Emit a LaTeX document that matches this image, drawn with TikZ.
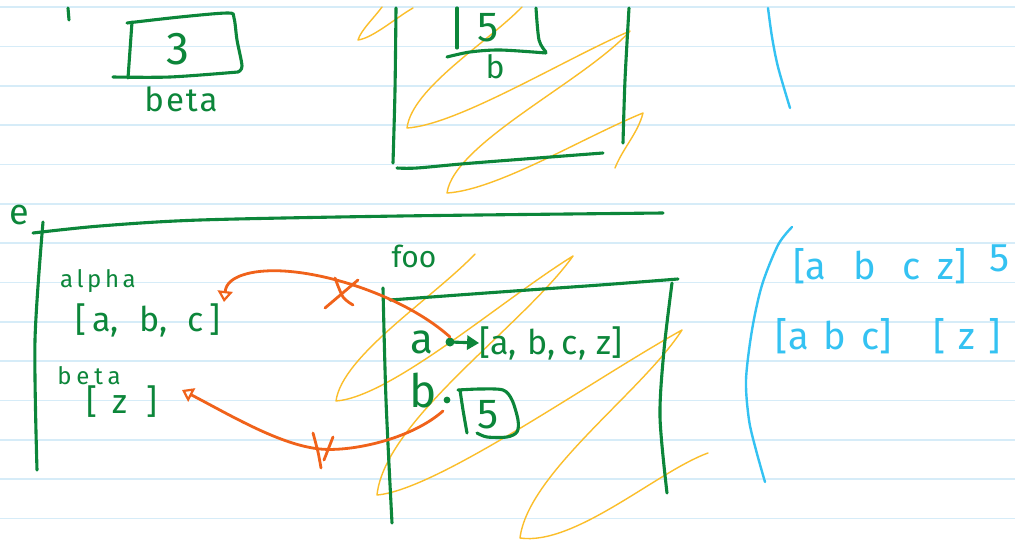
\documentclass[tikz,border=0pt]{standalone}
\usepackage{fontspec}
\setmainfont{Fira Sans}
\usetikzlibrary{arrows.meta}
\definecolor{ink}{RGB}{12,134,58}
\definecolor{orng}{RGB}{240,98,26}
\definecolor{hl}{RGB}{251,190,42}
\definecolor{sky}{RGB}{52,194,242}
\definecolor{rulec}{RGB}{214,236,248}
\newcommand{\fsz}[1]{\fontsize{#1}{#1}\selectfont}
\newcommand{\spread}[1]{\addfontfeature{LetterSpace=#1}}
\tikzset{
  hand/.style={text=ink, inner sep=0pt, anchor=center},
  bluetext/.style={text=sky, inner sep=0pt, anchor=center},
  pen/.style={draw=ink, line width=3.1pt, line cap=round, line join=round},
  bluepen/.style={draw=sky, line width=2.4pt, line cap=round},
  hilite/.style={draw=hl, line width=1.4pt, line cap=round, line join=round},
  redpen/.style={draw=orng, line width=2.8pt, line cap=round},
  redarrow/.style={redpen, -{Triangle[open, length=11pt, width=15pt, line width=2.2pt]}},
  rulings/.style={draw=rulec, line width=1.6pt},
}
\begin{document}
\begin{tikzpicture}[x=1pt,y=-1pt]
\useasboundingbox (0,0) rectangle (1015,543);
\fill[white] (0,0) rectangle (1015,543);
\foreach \k in {0,...,13}{\draw[rulings] (0,{7.3+39.33*\k}) -- (1015,{7.3+39.33*\k});}

% yellow scribbles
\draw[hilite] (382,7) .. controls +(-8,11) and +(3,-10) .. (358,40)
  .. controls +(15,-2) and +(-16,9) .. (413,8);
\draw[hilite] (522,7) .. controls +(-35,36) and +(5,-40) .. (407,128)
  .. controls +(50,-3) and +(-67,29) .. (630,31)
  .. controls +(-45,50) and +(7,-50) .. (447,193)
  .. controls +(50,-3) and +(-59,24) .. (643,113)
  .. controls +(-5,20) and +(8,-20) .. (615,168);
\draw[hilite] (475,254) .. controls +(-42,44) and +(6,-45) .. (336,401)
  .. controls +(55,-4) and +(-71,44) .. (573,256)
  .. controls +(-50,70) and +(8,-75) .. (377,495)
  .. controls +(60,-5) and +(-90,50) .. (682,330)
  .. controls +(-40,62) and +(8,-65) .. (520,538)
  .. controls +(55,8) and +(-50,18) .. (708,453);

% top-left tick
\draw[pen] (68,8) -- (69,20);
% box 3
\draw[pen] plot[smooth] coordinates {(127,23) (180,17) (228,13) (234,18) (237,40) (242,66) (238,72)};
\draw[pen] plot[smooth] coordinates {(113,77) (170,77) (238,72)};
\draw[pen] (132,22) -- (128,78);
\node[hand, font=\fsz{46}] (three) at (178,49) {3};
\node[hand, font=\fsz{33}\spread{6}] (betaTop) at (181,99) {beta};

% top middle frame
\draw[pen] plot[smooth] coordinates {(396,8) (395,90) (393,163)};
\draw[pen] plot[smooth] coordinates {(397,168) (417,168) (473,163) (603,153)};
\draw[pen] plot[smooth] coordinates {(629,8) (625,80) (623,143)};
\draw[pen] (457,8) -- (457,48);
\draw[pen] plot[smooth] coordinates {(536,8) (539,40) (546,52)};
\draw[pen] plot[smooth] coordinates {(447,57) (470,52) (500,50) (546,53)};
\node[hand, font=\fsz{42}] (five) at (488,28) {5};
\node[hand, font=\fsz{32}] (bTop) at (495,67) {b};

% blue top right
\draw[bluepen] plot[smooth] coordinates {(768,8) (772,37) (778,67) (790,108)};

% e frame
\node[hand, font=\fsz{36}] (e) at (19,215) {e};
\draw[pen] plot[smooth] coordinates {(33,233) (100,226) (200,220) (400,216) (663,213)};
\draw[pen] plot[smooth] coordinates {(43,222) (35,340) (37,470)};
\node[hand, font=\fsz{24}\spread{15}] (alphaLbl) at (98,281) {alpha};
\node[hand, font=\fsz{34}] (alphaList) at (148,320) {[\,a,\hspace{.6em}b,\hspace{.6em}c\,]};
\node[hand, font=\fsz{24}\spread{20}] (betaLbl) at (89,376) {beta};
\node[hand, font=\fsz{34}] (betaList) at (122,402) {[\hspace{.45em}z\hspace{.55em}]};

% foo frame
\node[hand, font=\fsz{30}] (foo) at (414,256) {foo};
\draw[pen] plot[smooth] coordinates {(390,300) (500,292) (600,285) (678,279)};
\draw[pen] plot[smooth] coordinates {(383,288) (386,400) (392,523)};
\draw[pen] plot[smooth] coordinates {(672,283) (664,350) (660,417) (667,493)};
\node[hand, font=\fsz{42}] (aVar) at (422,342) {a};
\node[hand, font=\fsz{34}] (aList) at (551,343) {[a,\hspace{.3em}b,\hspace{.2em}c,\hspace{.3em}z]};
\coordinate (aDot) at (450,342);
\fill[ink] (aDot) circle (4.5);
\draw[pen, -{Triangle[length=12pt,width=14pt]}] (aDot) -- (aList.west);
\node[hand, font=\fsz{46}] (bVar) at (423,391) {b};
\coordinate (bDot) at (447,400);
\fill[ink] (bDot) circle (3.4);
\draw[pen] plot[smooth] coordinates {(467,433) (463,410) (460,390)};
\draw[pen] plot[smooth] coordinates {(458,390) (480,389) (503,390) (512,400) (518,420) (517,432) (507,437) (487,437) (477,433)};
\node[hand, font=\fsz{42}] (fiveB) at (488,415) {5};

% orange arrows
\coordinate (o1s) at (450,337);
\coordinate (o1e) at (224,302);
\draw[redarrow] (o1s) .. controls (400,292) and (300,262) .. (250,273) .. controls (232,277) and (226,284) .. (o1e);
\draw[redpen] (325,308) -- (358,280);
\draw[redpen] plot[smooth] coordinates {(335,278) (343,297) (353,305)};
\coordinate (o2s) at (443,411);
\coordinate (o2e) at (182,390);
\draw[redarrow] (o2s) .. controls (410,440) and (350,452) .. (320,449) .. controls (280,445) and (230,415) .. (o2e);
\draw[redpen] plot[smooth] coordinates {(313,433) (318,452) (321,468)};
\draw[redpen] (333,437) -- (324,460);

% blue notes right
\draw[bluepen] plot[smooth] coordinates {(792,227) (778,245) (762,285) (752,330) (746,380) (749,420) (756,450) (765,482)};
\node[bluetext, font=\fsz{38}] (r1a) at (880,266) {[a\hspace{.7em}b\hspace{.7em}c\hspace{.45em}z]};
\node[bluetext, font=\fsz{40}] (r1b) at (1000,258) {5};
\node[bluetext, font=\fsz{38}] (r2a) at (834,336) {[a\hspace{.4em}b\hspace{.4em}c]};
\node[bluetext, font=\fsz{38}] (r2b) at (967,336) {[\hspace{.35em}z\hspace{.35em}]};
\end{tikzpicture}
\end{document}
